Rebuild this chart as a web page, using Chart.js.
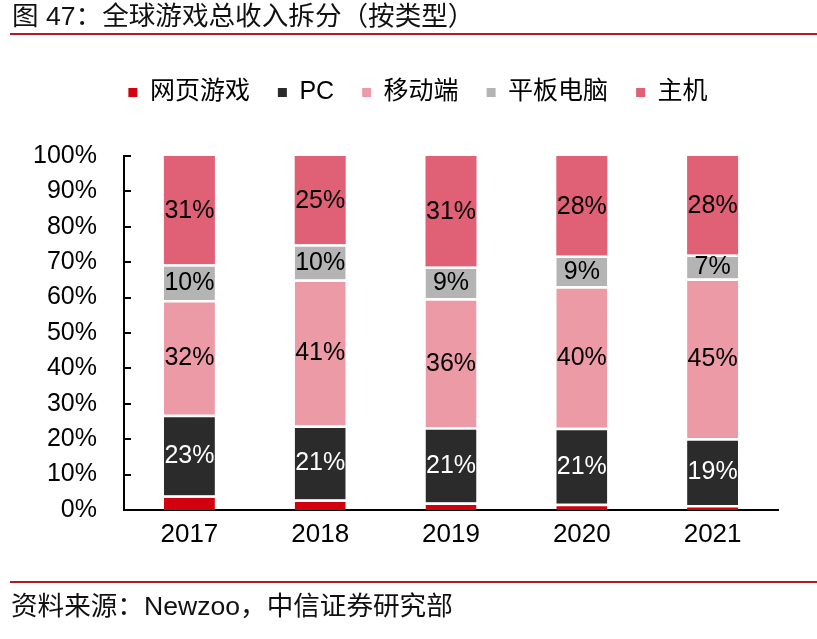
<!DOCTYPE html>
<html>
<head>
<meta charset="utf-8">
<script src="https://cdn.jsdelivr.net/npm/chart.js@4.4.1/dist/chart.umd.min.js"></script>
<style>
  body { margin: 0; background: #fff; width: 817px; height: 639px; overflow: hidden; position: relative;
         font-family: "Liberation Sans", "Noto Sans CJK SC", sans-serif; }
  canvas { position: absolute; left: 0; top: 0; }
  #ttl { position: absolute; left: 12px; top: 1px; font-size: 26.6px; line-height: 30px; color: #111; }
  #src { position: absolute; left: 11px; top: 591px; font-size: 26.6px; line-height: 30px; color: #111; }
  .rule { position: absolute; left: 10px; right: 0; height: 2px; background: #b01c25; }
</style>
</head>
<body>
<canvas id="chartGameRevenue" width="817" height="639"></canvas>
<div id="ttl">图 47：全球游戏总收入拆分（按类型）</div>
<div class="rule" style="top:33px"></div>
<div class="rule" style="top:581px"></div>
<div id="src">资料来源：Newzoo，中信证券研究部</div>

<script>
/* share of global game revenue by platform, % */
const years = ["2017", "2018", "2019", "2020", "2021"];
const webGames = [4.1, 3.0, 2.1, 1.8, 1.4];
const pcGames = [22.8, 20.9, 21.3, 21.4, 18.9];
const mobileGames = [32.4, 41.2, 36.4, 40.0, 45.1];
const tabletGames = [10.1, 10.0, 9.0, 8.7, 6.8];
const consoleGames = [30.6, 24.9, 31.2, 28.1, 27.8];

const fontFamily = '"Liberation Sans", "Noto Sans CJK SC", sans-serif';
Chart.defaults.font.family = fontFamily;
Chart.defaults.color = "#000";

const gap = { top: 2.5, right: 0, bottom: 0, left: 0 };

// percentage text in the middle of each segment
const segmentLabels = {
  id: "segmentLabels",
  afterDatasetsDraw(chart) {
    const ctx = chart.ctx;
    ctx.save();
    ctx.font = "25px " + fontFamily;
    ctx.textAlign = "center";
    ctx.textBaseline = "middle";
    chart.data.datasets.forEach((ds, i) => {
      if (!ds.labelColor) return;
      ctx.fillStyle = ds.labelColor;
      chart.getDatasetMeta(i).data.forEach((bar, j) => {
        ctx.fillText(Math.round(ds.data[j]) + "%", bar.x, (bar.y + bar.base) / 2 + 1);
      });
    });
    ctx.restore();
  }
};

// small tick marks pointing into the plot, like the original
const innerTicks = {
  id: "innerTicks",
  afterDraw(chart) {
    const ctx = chart.ctx;
    const y = chart.scales.y;
    const left = chart.chartArea.left;
    ctx.save();
    ctx.strokeStyle = "#000";
    ctx.lineWidth = 2;
    y.ticks.forEach((t) => {
      const py = Math.round(y.getPixelForValue(t.value));
      ctx.beginPath();
      ctx.moveTo(left, py);
      ctx.lineTo(left + 7, py);
      ctx.stroke();
    });
    ctx.restore();
  }
};

new Chart("chartGameRevenue", {
  type: "bar",
  data: {
    labels: years,
    datasets: [
      { label: "网页游戏", data: webGames, backgroundColor: "#d2000f", borderColor: "#fff", borderWidth: gap },
      { label: "PC", data: pcGames, backgroundColor: "#2b2b2b", borderColor: "#fff", borderWidth: gap, labelColor: "#fff" },
      { label: "移动端", data: mobileGames, backgroundColor: "#ec9aa6", borderColor: "#fff", borderWidth: gap, labelColor: "#000" },
      { label: "平板电脑", data: tabletGames, backgroundColor: "#b4b4b4", borderColor: "#fff", borderWidth: gap, labelColor: "#000" },
      { label: "主机", data: consoleGames, backgroundColor: "#e06176", borderWidth: 0, labelColor: "#000" }
    ]
  },
  options: {
    responsive: false,
    animation: false,
    datasets: { bar: { barPercentage: 0.39, categoryPercentage: 1 } },
    layout: { padding: { left: 19, right: 0, top: 52, bottom: 0 } },
    plugins: {
      legend: {
        position: "top",
        labels: {
          boxWidth: 9,
          boxHeight: 9,
          padding: 28,
          font: { size: 25 },
          generateLabels: (chart) =>
            Chart.defaults.plugins.legend.labels.generateLabels(chart).map((l) => ({ ...l, lineWidth: 0 }))
        }
      },
      // empty title used as a spacer between the legend and the plot
      title: { display: true, text: "", weight: 500, padding: { top: 0, bottom: 40 }, font: { size: 1, lineHeight: 1 } },
      tooltip: { enabled: false }
    },
    scales: {
      x: {
        stacked: true,
        grid: { display: false },
        border: { color: "#000", width: 2 },
        ticks: { font: { size: 26 }, padding: 1 },
        afterFit: (s) => { s.height = 129; }
      },
      y: {
        stacked: true,
        min: 0,
        max: 100,
        grid: { display: false },
        border: { color: "#000", width: 2 },
        ticks: { stepSize: 10, font: { size: 25 }, padding: 19, callback: (v) => v + "%" },
        afterFit: (s) => { s.width = 105; }
      },
      // empty axis that only keeps the right margin
      yRight: {
        position: "right",
        grid: { display: false },
        border: { display: false },
        ticks: { display: false },
        afterFit: (s) => { s.width = 39; }
      }
    }
  },
  plugins: [segmentLabels, innerTicks]
});
</script>
</body>
</html>
